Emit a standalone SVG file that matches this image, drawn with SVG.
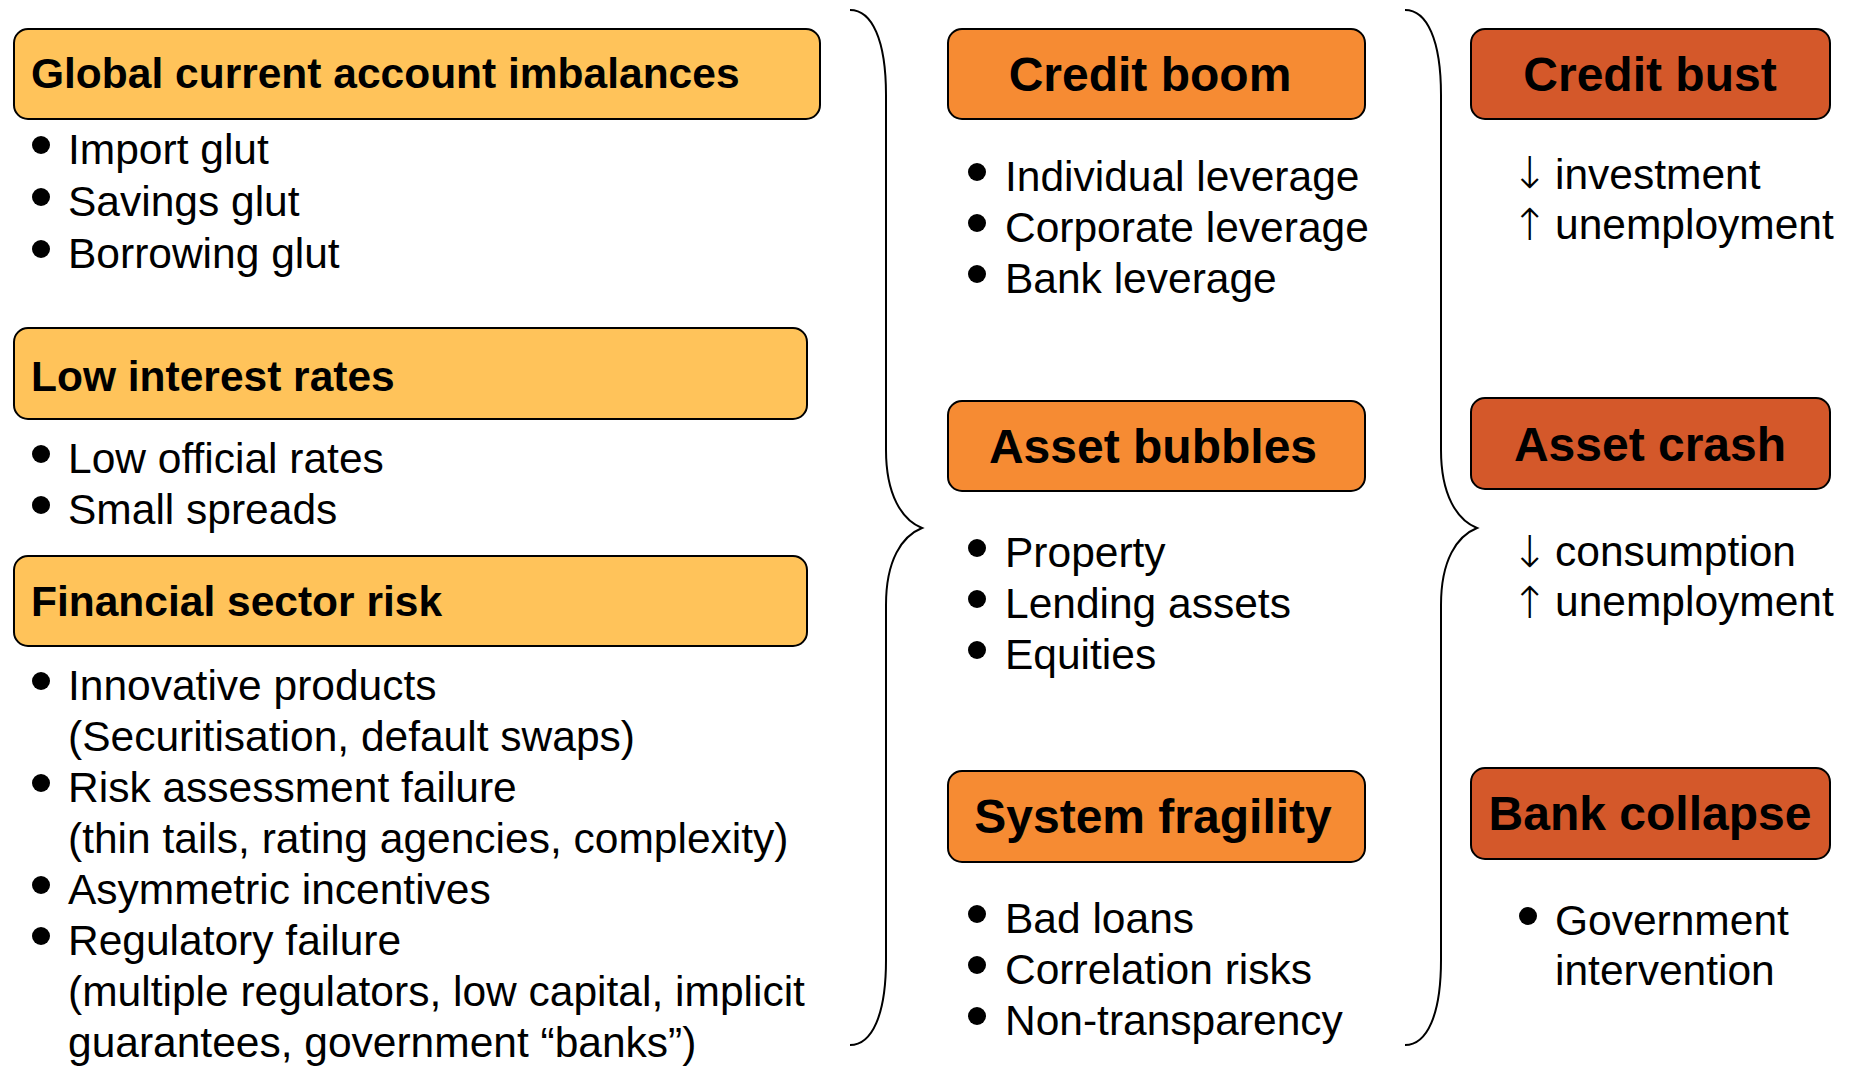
<svg xmlns="http://www.w3.org/2000/svg" width="1850" height="1066" viewBox="0 0 1850 1066">
<style>
text{font-family:"Liberation Sans",Arial,sans-serif;fill:#000}
.h1{font-size:42.5px;font-weight:bold}
.h2{font-size:48px;font-weight:bold;text-anchor:middle}
.t{font-size:42.5px}
.arr{font-family:"DejaVu Sans",sans-serif;font-size:44px;font-weight:200;text-anchor:middle}
.b1{fill:#FFC35A;stroke:#000;stroke-width:2}
.b2{fill:#F68B33;stroke:#000;stroke-width:2}
.b3{fill:#D4582A;stroke:#000;stroke-width:2}
.dot{fill:#000}
.brace{fill:none;stroke:#000;stroke-width:2}
</style>
<rect width="1850" height="1066" fill="#fff"/>

<g id="global-imbalances">
<rect class="b1" x="14" y="29" width="806" height="90" rx="14"/>
<text class="h1" x="31" y="88">Global current account imbalances</text>
<circle class="dot" cx="41" cy="145" r="9"/><text class="t" x="68" y="164">Import glut</text>
<circle class="dot" cx="41" cy="197" r="9"/><text class="t" x="68" y="216">Savings glut</text>
<circle class="dot" cx="41" cy="249" r="9"/><text class="t" x="68" y="268">Borrowing glut</text>
</g>

<g id="low-interest-rates">
<rect class="b1" x="14" y="328" width="793" height="91" rx="14"/>
<text class="h1" x="31" y="391">Low interest rates</text>
<circle class="dot" cx="41" cy="454" r="9"/><text class="t" x="68" y="473">Low official rates</text>
<circle class="dot" cx="41" cy="505" r="9"/><text class="t" x="68" y="524">Small spreads</text>
</g>

<g id="financial-sector-risk">
<rect class="b1" x="14" y="556" width="793" height="90" rx="14"/>
<text class="h1" x="31" y="616">Financial sector risk</text>
<circle class="dot" cx="41" cy="681" r="9"/><text class="t" x="68" y="700">Innovative products</text>
<text class="t" x="68" y="751">(Securitisation, default swaps)</text>
<circle class="dot" cx="41" cy="783" r="9"/><text class="t" x="68" y="802">Risk assessment failure</text>
<text class="t" x="68" y="853">(thin tails, rating agencies, complexity)</text>
<circle class="dot" cx="41" cy="885" r="9"/><text class="t" x="68" y="904">Asymmetric incentives</text>
<circle class="dot" cx="41" cy="936" r="9"/><text class="t" x="68" y="955">Regulatory failure</text>
<text class="t" x="68" y="1006">(multiple regulators, low capital, implicit</text>
<text class="t" x="68" y="1057">guarantees, government “banks”)</text>
</g>

<g id="connectors">
<path class="brace" d="M850,10 C872,10 886,40 886,95 L886,450 C886,495 902,520 922,528 C902,536 886,560 886,605 L886,960 C886,1015 872,1045 850,1045"/>
<path class="brace" d="M1405,10 C1427,10 1441,40 1441,95 L1441,450 C1441,495 1457,520 1477,528 C1457,536 1441,560 1441,605 L1441,960 C1441,1015 1427,1045 1405,1045"/>
</g>

<g id="credit-boom">
<rect class="b2" x="948" y="29" width="417" height="90" rx="14"/>
<text class="h2" x="1150" y="91">Credit boom</text>
<circle class="dot" cx="977" cy="172" r="9"/><text class="t" x="1005" y="191">Individual leverage</text>
<circle class="dot" cx="977" cy="223" r="9"/><text class="t" x="1005" y="242">Corporate leverage</text>
<circle class="dot" cx="977" cy="274" r="9"/><text class="t" x="1005" y="293">Bank leverage</text>
</g>

<g id="asset-bubbles">
<rect class="b2" x="948" y="401" width="417" height="90" rx="14"/>
<text class="h2" x="1153" y="463">Asset bubbles</text>
<circle class="dot" cx="977" cy="548" r="9"/><text class="t" x="1005" y="567">Property</text>
<circle class="dot" cx="977" cy="599" r="9"/><text class="t" x="1005" y="618">Lending assets</text>
<circle class="dot" cx="977" cy="650" r="9"/><text class="t" x="1005" y="669">Equities</text>
</g>

<g id="system-fragility">
<rect class="b2" x="948" y="771" width="417" height="91" rx="14"/>
<text class="h2" x="1153" y="833">System fragility</text>
<circle class="dot" cx="977" cy="914" r="9"/><text class="t" x="1005" y="933">Bad loans</text>
<circle class="dot" cx="977" cy="965" r="9"/><text class="t" x="1005" y="984">Correlation risks</text>
<circle class="dot" cx="977" cy="1016" r="9"/><text class="t" x="1005" y="1035">Non-transparency</text>
</g>

<g id="credit-bust">
<rect class="b3" x="1471" y="29" width="359" height="90" rx="14"/>
<text class="h2" x="1650" y="91">Credit bust</text>
<text class="arr" x="1530" y="188">↓</text><text class="t" x="1555" y="189">investment</text>
<text class="arr" x="1530" y="240">↑</text><text class="t" x="1555" y="239">unemployment</text>
</g>

<g id="asset-crash">
<rect class="b3" x="1471" y="398" width="359" height="91" rx="14"/>
<text class="h2" x="1650" y="461">Asset crash</text>
<text class="arr" x="1530" y="567">↓</text><text class="t" x="1555" y="566">consumption</text>
<text class="arr" x="1530" y="618">↑</text><text class="t" x="1555" y="616">unemployment</text>
</g>

<g id="bank-collapse">
<rect class="b3" x="1471" y="768" width="359" height="91" rx="14"/>
<text class="h2" x="1650" y="830">Bank collapse</text>
<circle class="dot" cx="1528" cy="916" r="9"/><text class="t" x="1555" y="935">Government</text>
<text class="t" x="1555" y="985">intervention</text>
</g>
</svg>
